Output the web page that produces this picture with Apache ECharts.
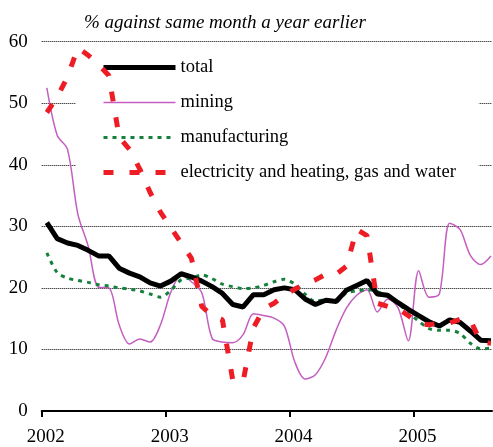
<!DOCTYPE html>
<html>
<head>
<meta charset="utf-8">
<script src="https://cdn.jsdelivr.net/npm/echarts@6/dist/echarts.min.js"></script>
<style>
  html, body { margin: 0; padding: 0; background: #fff; }
  #chart { width: 493px; height: 447px; }
</style>
</head>
<body>
<div id="chart"></div>
<script>
// monthly data, Jan 2002 - Aug 2005
const startYear = 2002;
const yearTicks = [0, 12, 24, 36];

const total = [30.6, 28.0, 27.3, 26.9, 26.1, 25.2, 25.2, 23.2, 22.4, 21.8, 20.8, 20.3,
  21.1, 22.3, 21.8, 21.1, 20.2, 19.1, 17.3, 16.9, 18.9, 18.9, 19.7, 20.0,
  19.7, 18.2, 17.3, 18.0, 17.8, 19.6, 20.4, 21.2, 19.0, 18.8, 17.6, 16.5,
  15.5, 14.5, 13.8, 14.8, 14.4, 13.0, 11.5, 11.4];

const mining = [52.5, 44.8, 42.5, 32.0, 26.8, 20.1, 20.0, 14.0, 10.9, 11.7, 11.2, 14.0,
  19.3, 22.0, 21.0, 19.2, 11.8, 11.2, 11.1, 12.4, 15.8, 15.5, 15.1, 13.8,
  8.0, 5.2, 5.9, 8.7, 13.1, 16.7, 18.8, 19.7, 16.1, 18.2, 16.8, 11.4,
  22.8, 18.5, 19.0, 30.5, 29.5, 25.3, 23.8, 25.2];

const manufacturing = [25.7, 22.5, 21.6, 21.2, 20.9, 20.5, 20.3, 20.0, 19.8, 19.5, 19.0, 18.5,
  19.6, 21.3, 21.6, 22.1, 21.5, 20.6, 20.2, 19.9, 20.0, 20.4, 21.0, 21.4,
  20.6, 19.0, 17.8, 18.1, 17.8, 19.2, 19.5, 19.7, 19.4, 18.6, 17.5, 16.0,
  14.6, 13.4, 13.1, 13.1, 12.6, 11.0, 10.1, 10.2];

const electricity = [48.5, 51.0, 54.3, 59.0, 57.8, 56.3, 54.5, 44.5, 42.5, 39.3, 35.5, 32.3,
  29.8, 27.3, 24.8, 17.0, 15.5, 14.8, 5.0, 4.8, 13.5, 16.6, 17.5, 18.8,
  19.8, 20.6, 21.3, 22.2, 22.2, 23.5, 29.5, 28.5, 17.5, 17.0, 16.6, 15.5,
  14.2, 14.0, 14.3, 14.3, 14.9, 14.8, 11.2, 11.0];

const seriesNames = ['total', 'mining', 'manufacturing', 'electricity and heating, gas and water'];

// plot each month in the middle of its slot
const toPoints = arr => arr.map((v, i) => [i + 0.5, v]);

const serif = '"Liberation Serif", "Times New Roman", serif';

const chart = echarts.init(document.getElementById('chart'), null, { renderer: 'canvas' });

chart.setOption({
  animation: false,
  backgroundColor: '#fff',
  title: {
    text: '% against same month a year earlier',
    left: 79,
    top: 8,
    textStyle: { fontFamily: serif, fontStyle: 'italic', fontWeight: 'normal', fontSize: 19, color: '#000' },
  },
  grid: { left: 41.7, right: 1, top: 41.7, bottom: 35.3 },
  legend: {
    orient: 'vertical',
    left: 76,
    top: 47.5,
    z: 1,
    padding: [10, 23, 12, 25],
    backgroundColor: '#fff',
    itemWidth: 72,
    itemHeight: 20,
    itemGap: 15,
    lineStyle: { width: 'inherit' },
    itemStyle: { opacity: 0 },
    textStyle: { fontFamily: serif, fontSize: 18.5, color: '#000', lineHeight: 20 },
    data: seriesNames,
  },
  xAxis: {
    type: 'value',
    min: 0,
    max: 43.6,
    interval: 12,
    axisLine: { lineStyle: { color: '#000', width: 2 } },
    axisTick: { customValues: yearTicks, length: 6, lineStyle: { color: '#000', width: 2 } },
    axisLabel: {
      customValues: yearTicks,
      formatter: v => String(startYear + Math.round(v / 12)),
      fontFamily: serif, fontSize: 19, color: '#000', margin: 17, padding: [0, 0, 0, 8],
    },
    splitLine: { show: false },
  },
  yAxis: {
    type: 'value',
    min: 0,
    max: 60,
    interval: 10,
    axisLine: { show: false },
    axisTick: { show: false },
    axisLabel: { fontFamily: serif, fontSize: 19, color: '#000', margin: 14 },
    splitLine: { lineStyle: { color: '#000', width: 1, type: [1, 1] } },
  },
  series: [
    {
      name: seriesNames[0], type: 'line', symbol: 'none', z: 5,
      data: toPoints(total),
      lineStyle: { color: '#000', width: 5 },
      itemStyle: { color: '#000' },
    },
    {
      name: seriesNames[1], type: 'line', symbol: 'none', smooth: 0.3, z: 3,
      data: toPoints(mining),
      lineStyle: { color: '#c45ec0', width: 1.5 },
      itemStyle: { color: '#c45ec0' },
    },
    {
      name: seriesNames[2], type: 'line', symbol: 'none', smooth: 0.3, z: 4,
      data: toPoints(manufacturing),
      lineStyle: { color: '#16803c', width: 3, type: [4, 5] },
      itemStyle: { color: '#16803c' },
    },
    {
      name: seriesNames[3], type: 'line', symbol: 'none', z: 6,
      data: toPoints(electricity),
      lineStyle: { color: '#ee1c25', width: 5, type: [10, 16] },
      itemStyle: { color: '#ee1c25' },
    },
  ],
});
</script>
</body>
</html>
